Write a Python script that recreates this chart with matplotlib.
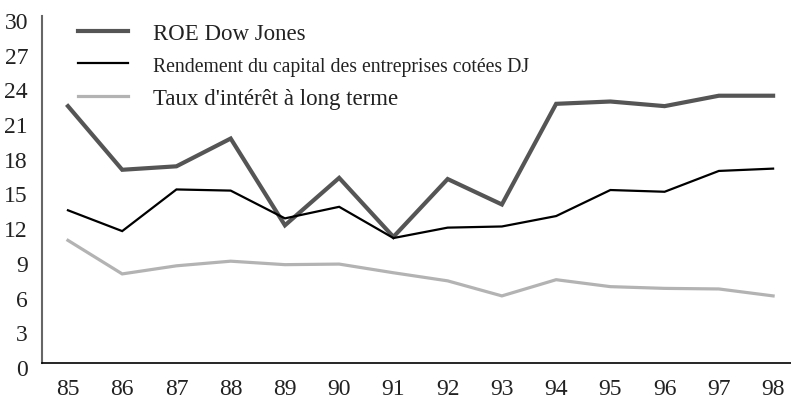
import matplotlib
matplotlib.use('Agg')
import matplotlib.pyplot as plt
import matplotlib.transforms as mtransforms

# values
years = ['85', '86', '87', '88', '89', '90', '91', '92', '93', '94', '95', '96', '97', '98']
roe_dow = [22.2, 16.7, 17.0, 19.4, 11.9, 16.0, 10.9, 15.9, 13.7, 22.4, 22.6, 22.2, 23.1, 23.1]
rendement = [13.2, 11.4, 15.0, 14.9, 12.5, 13.5, 10.8, 11.7, 11.8, 12.7, 14.95, 14.8, 16.6, 16.8]
taux_long = [10.6, 7.7, 8.4, 8.8, 8.5, 8.55, 7.8, 7.1, 5.8, 7.2, 6.6, 6.45, 6.4, 5.8]
labels = ['ROE Dow Jones',
          'Rendement du capital des entreprises cotées DJ',
          "Taux d'intérêt à long terme"]
y_ticks = list(range(0, 31, 3))

plt.rcParams['font.family'] = ['Liberation Serif', 'DejaVu Serif']

fig = plt.figure(figsize=(7.91, 4.02), dpi=100)
ax = fig.add_axes([0.053, 0.0945, 0.947, 0.8635])

x = list(range(len(years)))
ax.plot(x, roe_dow, color='#555555', lw=3.0, solid_joinstyle='miter', label=labels[0])
ax.plot(x, rendement, color='black', lw=1.6, solid_joinstyle='miter', label=labels[1])
ax.plot(x, taux_long, color='#b3b3b3', lw=2.3, solid_joinstyle='miter', label=labels[2])

ax.set_xlim(-0.48, len(years) - 1 + 0.33)
ax.set_ylim(0, 30)
ax.set_xticks(x)
ax.set_xticklabels(years)
ax.set_yticks(y_ticks)
ax.tick_params(length=0, labelsize=17, colors='#222222')
ax.tick_params(axis='y', pad=10)
ax.tick_params(axis='x', pad=11)

# y labels sit a little low in the reference
offset = mtransforms.ScaledTranslation(0, -4 / 100, fig.dpi_scale_trans)
for lab in ax.get_yticklabels():
    lab.set_transform(lab.get_transform() + offset)

for side in ['top', 'right']:
    ax.spines[side].set_visible(False)
ax.spines['left'].set_color('#666666')
ax.spines['left'].set_linewidth(1.5)
ax.spines['bottom'].set_color('black')
ax.spines['bottom'].set_linewidth(1.2)

leg = ax.legend(loc='upper left', bbox_to_anchor=(0.020, 1.04), frameon=False,
                handlelength=2.2, handletextpad=1.1, labelspacing=0.5, fontsize=16.5)
leg.get_texts()[1].set_fontsize(14.2)
for t in leg.get_texts():
    t.set_color('#222222')

fig.savefig('out.png', dpi=100)
